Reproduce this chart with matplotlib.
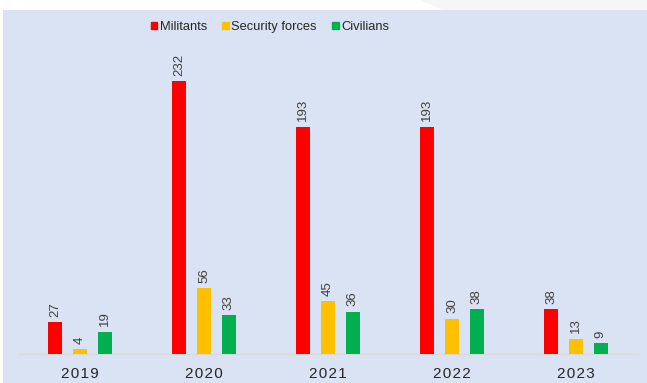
import numpy as np
import matplotlib.pyplot as plt
from matplotlib.patches import Rectangle, Polygon
from matplotlib import font_manager

plt.rcParams['font.family'] = ['Liberation Sans', 'DejaVu Sans']

years = ['2019', '2020', '2021', '2022', '2023']
militants = [27, 232, 193, 193, 38]
security = [4, 56, 45, 30, 13]
civilians = [19, 33, 36, 38, 9]

series = [('Militants', militants, '#ff0000'),
          ('Security forces', security, '#ffc000'),
          ('Civilians', civilians, '#00b050')]

names = {f.name for f in font_manager.fontManager.ttflist}
narrow = 'Liberation Sans Narrow' if 'Liberation Sans Narrow' in names else None

W, H = 647, 383
fig = plt.figure(figsize=(W / 100, H / 100), dpi=100)
fig.patch.set_facecolor('white')

# light grey strip at the top right and the blue panel
fig.patches.append(Polygon([(420 / W, 1), (1, 1), (1, (H - 10) / H), (443 / W, (H - 10) / H)],
                           closed=True, transform=fig.transFigure,
                           facecolor='#f6f6f6', edgecolor='none', zorder=-2))
fig.patches.append(Rectangle((3 / W, 0), 1 - 3 / W, (H - 10) / H,
                             transform=fig.transFigure, facecolor='#dae3f3',
                             edgecolor='none', zorder=-2))

ax = fig.add_axes([18 / W, (H - 354) / H, 620 / W, 314 / H])
ax.set_facecolor('none')
ax.set_zorder(1)

lab_family = [narrow, 'DejaVu Sans'] if narrow else ['Liberation Sans', 'DejaVu Sans']
lab_size = 11 if narrow else 9.5

x = np.arange(len(years))
width = 0.113
step = 0.2
for i, (name, vals, col) in enumerate(series):
    pos = x + (i - 1) * step
    ax.bar(pos, vals, width, color=col, label=name, zorder=3)
    for p, v in zip(pos, vals):
        ax.annotate(str(v), (p, v), xytext=(0, 4), textcoords='offset points',
                    rotation=90, ha='center', va='bottom', fontsize=lab_size,
                    family=lab_family, color='#404040')

ax.set_xlim(-0.5, len(years) - 0.5)
ax.set_ylim(0, 267)
ax.set_yticks([])
ax.set_xticks(x)
ax.set_xticklabels(['\u200a'.join(y) for y in years], fontsize=11, color='#262626')
ax.tick_params(axis='x', length=0, pad=9)
for s in ['top', 'right', 'left']:
    ax.spines[s].set_visible(False)
ax.spines['bottom'].set_color('#d9d9d9')
ax.spines['bottom'].set_linewidth(1)

handles = [Rectangle((0, 0), 1, 1, color=c) for _, _, c in series]
leg = fig.legend(handles, [s[0] for s in series], loc='center',
                 bbox_to_anchor=(270 / W, (H - 27) / H), ncol=3, frameon=False,
                 prop={'family': lab_family, 'size': 11.5 if narrow else 9.3},
                 handlelength=0.5, handleheight=0.5,
                 handletextpad=0.2, columnspacing=1.2, labelcolor='#262626')
leg.set_zorder(2)

fig.savefig('out.png', dpi=100, facecolor=fig.get_facecolor())
